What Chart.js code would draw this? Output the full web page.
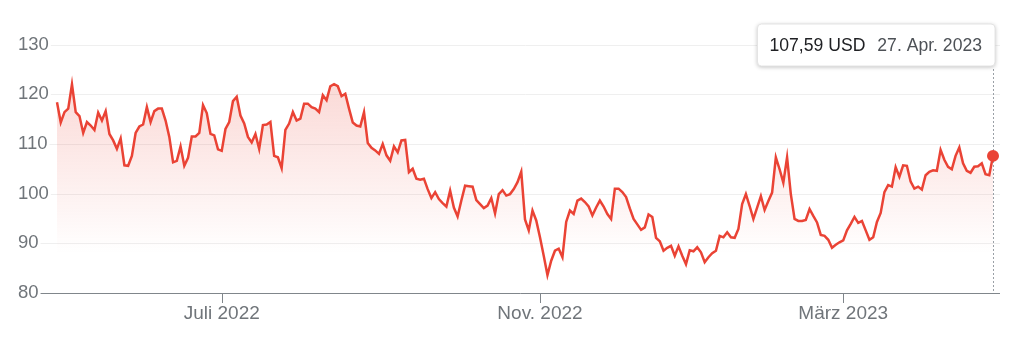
<!DOCTYPE html>
<html lang="de">
<head>
<meta charset="UTF-8">
<title>Kursverlauf 1 Jahr</title>
<script src="https://cdn.jsdelivr.net/npm/chart.js"></script>
<style>
    body { margin: 0; background: #fff; }
    #box { width: 1024px; height: 339px; }
</style>
</head>
<body>
<div id="box"><canvas id="kurs"></canvas></div>
<script>
    // Schlusskurse (Handelstage), Ende April 2022 bis 27. Apr. 2023
    const kurse = [
        118.4, 114.3, 116.4, 117.1, 122.0, 116.4, 115.6, 112.2, 114.4, 113.7,
        112.8, 116.3, 114.7, 116.6, 112.0, 110.7, 109.0, 111.1, 105.7, 105.6,
        107.6, 112.2, 113.5, 113.9, 117.4, 114.4, 116.6, 117.1, 117.1, 114.7,
        111.4, 106.3, 106.6, 109.5, 105.6, 107.2, 111.5, 111.5, 112.2, 117.8,
        116.2, 112.0, 111.7, 108.9, 108.6, 113.0, 114.4, 118.6, 119.5, 115.7,
        114.1, 111.4, 110.3, 112.0, 109.0, 113.8, 113.9, 114.4, 107.6, 107.3,
        105.1, 112.8, 114.1, 116.4, 114.7, 115.1, 118.1, 118.1, 117.4, 117.1,
        116.4, 119.8, 118.8, 121.6, 122.0, 121.6, 119.6, 120.1, 117.1, 114.3,
        113.7, 113.5, 116.4, 110.2, 109.2, 108.7, 108.0, 110.0, 107.7, 106.6,
        109.5, 108.3, 110.7, 110.8, 104.3, 105.0, 103.0, 102.8, 103.0, 100.9,
        99.1, 100.3, 98.9, 98.1, 97.4, 100.6, 97.2, 95.4, 98.6, 101.6,
        101.5, 101.4, 98.7, 97.9, 97.1, 97.6, 99.1, 96.0, 99.9, 100.7,
        99.6, 99.9, 100.9, 102.3, 104.4, 94.8, 92.6, 96.6, 94.6, 91.2,
        87.5, 83.6, 86.5, 88.5, 88.9, 87.2, 94.3, 96.6, 95.9, 98.6,
        99.0, 98.3, 97.4, 95.6, 97.2, 98.6, 97.4, 95.9, 94.9, 101.0,
        101.0, 100.3, 99.3, 97.0, 94.9, 93.8, 92.7, 93.2, 95.8, 95.3,
        91.1, 90.4, 88.5, 89.1, 89.5, 87.5, 89.4, 87.5, 85.8, 88.6,
        88.4, 89.2, 88.2, 86.2, 87.2, 88.0, 88.5, 91.5, 91.2, 92.2,
        91.2, 91.1, 92.9, 97.9, 99.9, 97.5, 94.9, 97.2, 99.5, 96.7,
        98.5, 100.2, 107.3, 104.9, 102.2, 107.3, 99.9, 94.9, 94.5, 94.5,
        94.7, 96.9, 95.5, 94.2, 91.7, 91.5, 90.7, 89.1, 89.7, 90.2,
        90.6, 92.6, 93.9, 95.3, 94.1, 94.5, 92.6, 90.7, 91.2, 94.3,
        96.1, 100.3, 101.7, 101.4, 105.3, 103.4, 105.7, 105.6, 102.4, 101.0,
        101.4, 100.8, 103.7, 104.4, 104.7, 104.6, 108.8, 106.8, 105.4, 104.9,
        107.6, 109.3, 106.1, 104.6, 104.2, 105.4, 105.5, 106.1, 103.9, 103.7,
        107.59
    ];

    // Monatsanfänge (Index des Handelstags) und ihre Beschriftung
    const monatIndex = [44, 129, 210];
    const monatText = ['Juli 2022', 'Nov. 2022', 'März 2023'];
    const yWerte = [80, 90, 100, 110, 120, 130];
    const letzterTag = '27. Apr. 2023';
    const waehrung = 'USD';

    const rot = '#ea4335';
    const grau = '#70757a';
    const schrift = '"Liberation Sans", Arial, sans-serif';

    function tooltipBox(chart) {
        const ctx = chart.ctx;
        const px = chart.scales.x.getPixelForValue(kurse.length - 1);
        ctx.save();
        ctx.font = '17.6px ' + schrift;
        const wert = kurse[kurse.length - 1].toFixed(2).replace('.', ',') + ' ' + waehrung;
        const w1 = ctx.measureText(wert).width;
        const w2 = ctx.measureText(letzterTag).width;
        ctx.restore();
        const breite = 12 + w1 + 12 + w2 + 13;
        return { x: px + 2 - breite, y: 24, w: breite, h: 42, wert: wert, w1: w1, px: px };
    }

    const deko = {
        id: 'deko',
        beforeDatasetsDraw(chart) {
            const ctx = chart.ctx;
            const y = chart.scales.y;
            const area = chart.chartArea;
            ctx.save();
            ctx.font = '18.5px ' + schrift;
            yWerte.forEach(function (v) {
                const py = Math.round(y.getPixelForValue(v)) + 0.5;
                const start = y.left + ctx.measureText(String(v)).width + 2;
                ctx.beginPath();
                ctx.moveTo(start, py);
                ctx.lineTo(1000, py);
                ctx.lineWidth = 1;
                ctx.strokeStyle = v === 80 ? '#80868b' : '#efefef';
                ctx.stroke();
            });
            // Markierungen unter der Achse
            monatIndex.forEach(function (i) {
                const px = Math.round(chart.scales.x.getPixelForValue(i)) + 0.5;
                ctx.beginPath();
                ctx.moveTo(px, area.bottom);
                ctx.lineTo(px, area.bottom + 10);
                ctx.strokeStyle = '#80868b';
                ctx.stroke();
            });
            // gepunktete Linie zum letzten Kurs
            const b = tooltipBox(chart);
            const lx = Math.round(b.px) + 0.5;
            ctx.beginPath();
            ctx.setLineDash([2, 2]);
            ctx.moveTo(lx, b.y + b.h + 3);
            ctx.lineTo(lx, area.bottom);
            ctx.strokeStyle = '#9aa0a6';
            ctx.stroke();
            ctx.restore();
        },
        afterDatasetsDraw(chart) {
            const ctx = chart.ctx;
            const b = tooltipBox(chart);
            ctx.save();
            ctx.shadowColor = 'rgba(0,0,0,0.28)';
            ctx.shadowBlur = 4;
            ctx.shadowOffsetY = 1;
            ctx.beginPath();
            ctx.roundRect(b.x, b.y, b.w, b.h, 4);
            ctx.fillStyle = '#fff';
            ctx.fill();
            ctx.shadowColor = 'transparent';
            ctx.strokeStyle = '#e4e4e4';
            ctx.lineWidth = 1;
            ctx.stroke();
            ctx.font = '17.6px ' + schrift;
            ctx.textBaseline = 'middle';
            ctx.fillStyle = '#202124';
            ctx.fillText(b.wert, b.x + 12, b.y + b.h / 2 + 1);
            ctx.fillStyle = '#4d5156';
            ctx.fillText(letzterTag, b.x + 24 + b.w1, b.y + b.h / 2 + 1);
            ctx.restore();
        }
    };

    let dados = {
        datasets: [{
            data: kurse.map(function (v, i) { return { x: i, y: v }; }),
            borderColor: rot,
            borderWidth: 2.5,
            tension: 0,
            fill: 'start',
            clip: false,
            backgroundColor: function (c) {
                const chart = c.chart;
                if (!chart.chartArea) return null;
                const g = chart.ctx.createLinearGradient(0, chart.scales.y.getPixelForValue(122), 0, chart.scales.y.getPixelForValue(88));
                g.addColorStop(0, 'rgba(234,67,53,0.2)');
                g.addColorStop(1, 'rgba(234,67,53,0)');
                return g;
            },
            pointRadius: function (c) { return c.dataIndex === kurse.length - 1 ? 6 : 0; },
            pointHoverRadius: 0,
            pointBackgroundColor: rot,
            pointBorderWidth: 0
        }]
    };

    const config = {
        type: 'line',
        data: dados,
        plugins: [deko],
        options: {
            responsive: true,
            maintainAspectRatio: false,
            animation: false,
            events: [],
            layout: { padding: { left: 18, right: 31, top: 44.5, bottom: 0 } },
            plugins: {
                legend: { display: false },
                tooltip: { enabled: false }
            },
            scales: {
                x: {
                    type: 'linear',
                    min: 0,
                    max: kurse.length - 1,
                    afterBuildTicks: function (s) { s.ticks = monatIndex.map(function (v) { return { value: v }; }); },
                    afterFit: function (s) { s.height = 46; },
                    grid: { display: false, drawTicks: false },
                    border: { display: false },
                    ticks: {
                        autoSkip: false,
                        maxRotation: 0,
                        padding: 9,
                        color: grau,
                        font: { family: schrift, size: 19 },
                        callback: function (v) { return monatText[monatIndex.indexOf(v)]; }
                    }
                },
                y: {
                    min: 80,
                    max: 130,
                    afterBuildTicks: function (s) { s.ticks = yWerte.map(function (v) { return { value: v }; }); },
                    afterFit: function (s) { s.width = 39; },
                    grid: { display: false, drawTicks: false },
                    border: { display: false },
                    ticks: {
                        crossAlign: 'far',
                        padding: 0,
                        color: grau,
                        font: { family: schrift, size: 18.5 }
                    }
                }
            }
        }
    };

    let grafico = new Chart(document.getElementById('kurs'), config);
</script>
</body>
</html>
